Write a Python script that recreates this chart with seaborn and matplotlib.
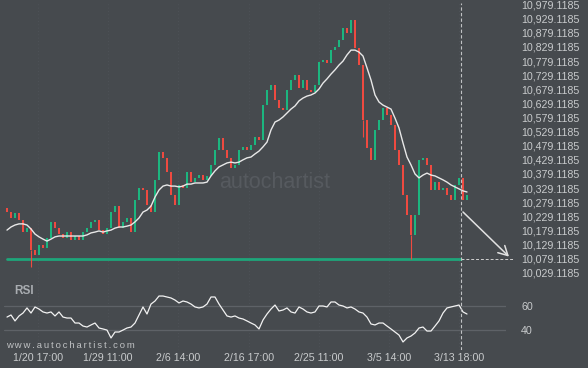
import numpy as np
import pandas as pd
import matplotlib
matplotlib.use('Agg')
import matplotlib.pyplot as plt
import seaborn as sns

# hourly-ish candles (close prices)
first_open = 10258
closes = [10244, 10223, 10241, 10216, 10173, 10187, 10109, 10092, 10127, 10117,
          10152, 10209, 10187, 10166, 10152, 10173, 10145, 10159, 10145, 10173,
          10187, 10209, 10216, 10180, 10166, 10187, 10244, 10265, 10187, 10209,
          10223, 10173, 10287, 10329, 10322, 10269, 10244, 10358, 10457, 10436,
          10386, 10304, 10269, 10340, 10329, 10386, 10350, 10365, 10375, 10358,
          10372, 10411, 10464, 10506, 10464, 10436, 10400, 10411, 10464, 10475,
          10464, 10482, 10510, 10499, 10623, 10677, 10694, 10641, 10613, 10606,
          10677, 10712, 10730, 10684, 10712, 10677, 10670, 10694, 10776, 10783,
          10772, 10818, 10829, 10854, 10896, 10879, 10925, 10826, 10765, 10570,
          10471, 10429, 10535, 10570, 10613, 10588, 10553, 10464, 10411, 10304,
          10233, 10162, 10233, 10429, 10436, 10411, 10322, 10350, 10322, 10329,
          10304, 10287, 10340, 10365, 10287, 10304]

# long lower wicks
spike_lows = {6: 10049, 89: 10510, 101: 10079}

# moving average (white line)
ma = [10180, 10191, 10198, 10202, 10202, 10198, 10184, 10166, 10156, 10148,
      10141, 10148, 10156, 10159, 10159, 10159, 10159, 10159, 10159, 10159,
      10163, 10170, 10173, 10177, 10173, 10177, 10180, 10187, 10191, 10191,
      10194, 10198, 10209, 10223, 10244, 10251, 10265, 10297, 10322, 10336,
      10340, 10336, 10336, 10333, 10336, 10343, 10343, 10347, 10347, 10347,
      10350, 10372, 10390, 10404, 10411, 10418, 10421, 10418, 10421, 10429,
      10436, 10439, 10450, 10460, 10475, 10492, 10535, 10563, 10570, 10581,
      10595, 10609, 10620, 10638, 10648, 10655, 10659, 10666, 10680, 10701,
      10716, 10733, 10748, 10765, 10779, 10801, 10818, 10818, 10811, 10797,
      10755, 10712, 10659, 10634, 10623, 10616, 10609, 10577, 10542, 10489,
      10439, 10411, 10379, 10365, 10375, 10382, 10375, 10372, 10365, 10358,
      10350, 10340, 10333, 10326, 10319, 10315]

rsi = [50.9, 52.6, 47.7, 51.8, 54.2, 58.4, 54.2, 59.2, 57.5, 55.1,
       54.2, 55.1, 51.8, 55.1, 50.9, 50.1, 50.1, 46.0, 46.0, 43.5,
       42.7, 44.4, 46.0, 41.9, 41.1, 40.2, 33.7, 38.6, 38.6, 40.2,
       41.9, 42.7, 46.0, 52.6, 59.2, 53.4, 61.6, 64.1, 68.2, 68.2,
       67.4, 66.6, 64.9, 62.5, 64.1, 63.3, 61.6, 59.2, 58.4, 59.2,
       61.6, 67.4, 67.4, 61.6, 56.7, 51.8, 50.9, 51.8, 50.1, 49.3,
       47.7, 46.0, 44.4, 41.1, 48.5, 53.4, 57.5, 60.8, 55.9, 56.7,
       58.4, 55.1, 54.2, 59.2, 57.5, 55.1, 54.2, 55.1, 60.0, 60.0,
       59.2, 63.3, 63.3, 60.8, 60.0, 58.4, 59.2, 57.5, 55.1, 54.2,
       50.9, 45.2, 44.4, 46.0, 46.0, 43.5, 41.1, 38.6, 36.1, 30.4,
       33.7, 35.3, 37.8, 41.9, 42.7, 39.4, 39.4, 43.5, 47.7, 54.2,
       58.4, 59.2, 60.0, 60.8, 55.1, 53.4]

price_levels = [10029.1185, 10079.1185, 10129.1185, 10179.1185, 10229.1185,
                10279.1185, 10329.1185, 10379.1185, 10429.1185, 10479.1185,
                10529.1185, 10579.1185, 10629.1185, 10679.1185, 10729.1185,
                10779.1185, 10829.1185, 10879.1185, 10929.1185, 10979.1185]
rsi_levels = [40, 60]
time_labels = ['1/20 17:00', '1/29 11:00', '2/6 14:00', '2/16 17:00',
               '2/25 11:00', '3/5 14:00', '3/13 18:00']
time_idx = [7.75, 25.25, 42.75, 60.5, 78, 95.5, 113]

support = 10079.1185
pattern_end = 113.5
forecast_end = 126
forecast_start = 10251

assert len(closes) == len(ma) == len(rsi)
n = len(closes)
df = pd.DataFrame({'idx': np.arange(n), 'close': closes, 'ma': ma, 'rsi': rsi})
df['open'] = [first_open] + closes[:-1]

bg = '#464a4e'
txt = '#c8cacc'
green = '#1cb67f'
red = '#ef4a40'

sns.set_theme(style='dark')
plt.rcParams['font.family'] = ['Liberation Sans', 'DejaVu Sans']

W, H = 588, 368
fig = plt.figure(figsize=(W / 100, H / 100), dpi=100, facecolor=bg)

def px_axes(x0, y0, x1, y1):
    return fig.add_axes([x0 / W, 1 - y1 / H, (x1 - x0) / W, (y1 - y0) / H])

ax = px_axes(4, 3, 506, 288)
ax2 = px_axes(4, 288, 506, 350)

for a in (ax, ax2):
    a.set_facecolor(bg)
    for s in a.spines.values():
        s.set_visible(False)
    a.set_xlim(-0.75, 124.75)
    a.grid(False)
    a.yaxis.tick_right()
    a.tick_params(axis='y', length=0, pad=11, labelsize=7.7, labelcolor=txt)
    for t in time_idx:
        a.axvline(t, color='#50545a', lw=0.6, ls=(0, (1, 3)), zorder=0)

# candles
up = df['close'] >= df['open']
body_lo = np.minimum(df['open'], df['close'])
body_h = np.maximum(np.abs(df['close'] - df['open']), 4)
ax.bar(df['idx'], body_h, bottom=body_lo, width=0.55,
       color=np.where(up, green, red), linewidth=0, zorder=3)
for i, lo in spike_lows.items():
    c = green if up[i] else red
    ax.vlines(i, lo, body_lo[i], color=c, lw=0.8, zorder=3)

sns.lineplot(data=df, x='idx', y='ma', ax=ax, color='#e8e8e8', lw=1.0, zorder=4)

# support level and forecast
ax.plot([0, pattern_end], [support, support], color='#1ea67a', lw=2.0, zorder=2)
ax.plot([pattern_end, forecast_end + 0.5], [support, support], color='#d0d0d0',
        lw=0.7, ls=(0, (3, 2)), clip_on=False, zorder=2)
ax.annotate('', xy=(forecast_end, support), xytext=(pattern_end, forecast_start),
            arrowprops=dict(arrowstyle='->,head_length=0.55,head_width=0.3',
                            color='#e2e2e2', lw=1.1),
            annotation_clip=False, zorder=5)
for a in (ax, ax2):
    a.axvline(pattern_end, color='#c0c2c4', lw=0.8, ls=(0, (3, 2)), zorder=5)

ax.set_ylim(9974.7, 10985.0)
ax.set_yticks(price_levels)
ax.set_yticklabels([f'{v:,.4f}' for v in price_levels])
ax.set_xticks([])
ax.set_xlabel('')
ax.set_ylabel('')

ax.text(0.54, 0.37, 'autochartist', transform=ax.transAxes, ha='center',
        va='center', fontsize=15.5, color='#565a5f', zorder=1)

# RSI panel
sns.lineplot(data=df, x='idx', y='rsi', ax=ax2, color='#f2f2f2', lw=0.9, zorder=4)
for lv in rsi_levels:
    ax2.axhline(lv, color='#5e6267', lw=0.9, zorder=1)
ax2.set_ylim(23.8, 74.8)
ax2.set_yticks(rsi_levels)
ax2.set_yticklabels([str(v) for v in rsi_levels])
ax2.set_xticks(time_idx)
ax2.set_xticklabels(time_labels)
ax2.tick_params(axis='x', length=0, pad=2, labelsize=7.7, labelcolor=txt)
ax2.set_xlabel('')
ax2.set_ylabel('')

fig.text(14 / W, 1 - 291 / H, 'RSI', fontsize=8.5, fontweight='bold',
         color='#a9adb1', va='center', ha='left')
fig.text(6 / W, 1 - 345 / H, 'w w w . a u t o c h a r t i s t . c o m'.replace(' ', '\u2009'),
         fontsize=6.8, color='#c0c2c4', va='center', ha='left')

fig.savefig('out.png', dpi=100, facecolor=bg)
